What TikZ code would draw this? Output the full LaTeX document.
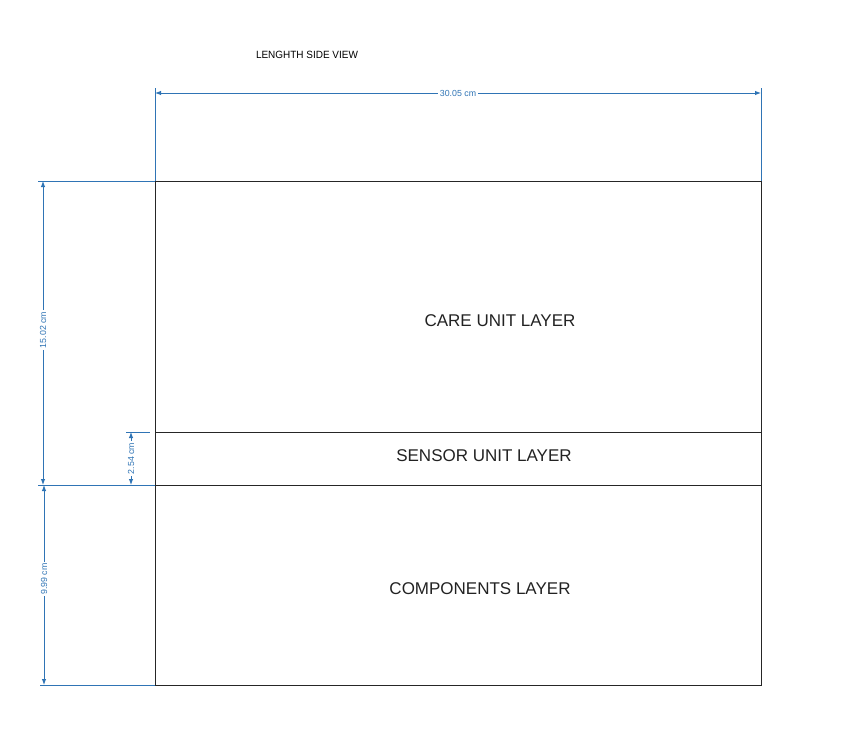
\documentclass[tikz,border=0pt]{standalone}
\usepackage{fontspec}
\setmainfont{Liberation Sans}
\usetikzlibrary{arrows.meta}
\definecolor{dimblue}{HTML}{2F74B5}
\definecolor{txt}{HTML}{222222}
\tikzset{
  layer/.style={draw=black!85, line width=0.8pt, minimum width=606pt, inner sep=0pt, outer sep=0pt},
  laytext/.style={text=txt, font=\fontsize{17}{19}\selectfont},
  dimline/.style={draw=dimblue, line width=1pt, {Latex[length=6pt,width=4.5pt]}-{Latex[length=6pt,width=4.5pt]}},
  extline/.style={draw=dimblue, line width=1pt},
  dimlabel/.style={fill=white, text=dimblue, inner sep=1.5pt, font=\fontsize{8.8}{10}\selectfont}
}
\begin{document}
\begin{tikzpicture}[x=1pt,y=-1pt]
\useasboundingbox (0,0) rectangle (867,736);
\node[font=\fontsize{10.5}{12}\selectfont, text=black, xscale=0.95] (title) at (307,55) {LENGHTH SIDE VIEW};
% layers
\node[layer, minimum height=251pt, anchor=north west] (care) at (155,181) {};
\node[layer, minimum height=53pt, anchor=north west] (sensor) at (155,432) {};
\node[layer, minimum height=200pt, anchor=north west] (comp) at (155,485) {};
\node[laytext] (careL) at (500,321) {CARE UNIT LAYER};
\node[laytext] (sensL) at (484,456) {SENSOR UNIT LAYER};
\node[laytext] (compL) at (480,589) {COMPONENTS LAYER};
% top dimension
\coordinate (tl) at (155,88);
\coordinate (tr) at (761,88);
\coordinate (tla) at (155,93);
\coordinate (tra) at (761,93);
\draw[extline] (tl) -- (care.north west);
\draw[extline] (tr) -- (care.north east);
\draw[dimline] (tla) -- node[dimlabel] (w) {30.05 cm} (tra);
% left dimensions
\coordinate (a1) at (38,181);
\coordinate (a2) at (38,485);
\coordinate (a3) at (40,685);
\draw[extline] (a1) -- (care.north west);
\draw[extline] (a2) -- (comp.north west);
\draw[extline] (a3) -- (comp.south west);
\coordinate (d1) at (43,181);
\coordinate (d2) at (43,485);
\coordinate (d3) at (44,485);
\coordinate (d4) at (44,685);
\draw[dimline] (d1) -- node[dimlabel, rotate=90, pos=0.49] (h1) {15.02 cm} (d2);
\draw[dimline] (d3) -- node[dimlabel, rotate=90, pos=0.47] (h2) {9.99 cm} (d4);
% sensor 2.54
\coordinate (s0) at (126,432);
\coordinate (s0e) at (150,432);
\draw[extline] (s0) -- (s0e);
\coordinate (s1) at (131,432);
\coordinate (s2) at (131,485);
\draw[dimline] (s1) -- node[dimlabel, rotate=90] (h3) {2.54 cm} (s2);
\end{tikzpicture}
\end{document}
